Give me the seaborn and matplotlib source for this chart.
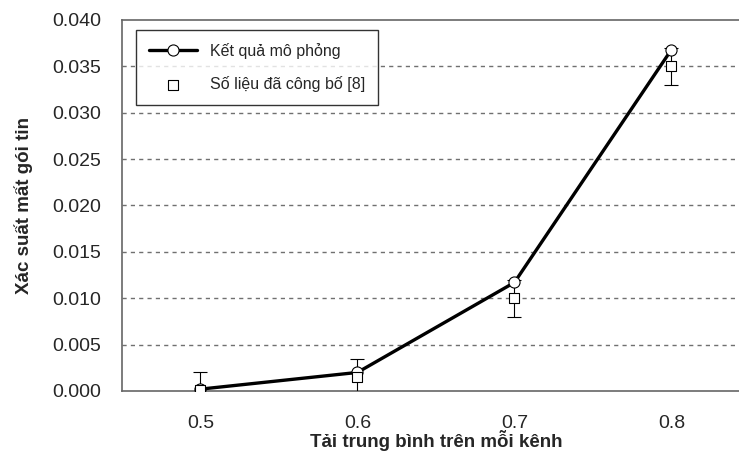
import numpy as np
import matplotlib.pyplot as plt
import seaborn as sns

# values
loads = ['0.5', '0.6', '0.7', '0.8']
sim_loss = [0.0002, 0.0020, 0.0117, 0.0368]   # Kết quả mô phỏng
pub_loss = [0.0001, 0.0015, 0.0100, 0.0350]   # Số liệu đã công bố [8]
pub_err = [0.002, 0.002, 0.002, 0.002]
y_ticks = [0.000, 0.005, 0.010, 0.015, 0.020, 0.025, 0.030, 0.035, 0.040]

sns.set_style('white')
plt.rcParams['font.family'] = ['Liberation Sans', 'DejaVu Sans']

fig = plt.figure(figsize=(7.39, 4.55), dpi=100)
ax = fig.add_axes([0.165, 0.1407, 0.8498, 0.8154])
xs = np.arange(len(loads))

# error bars of the published data
ax.errorbar(xs, pub_loss, yerr=pub_err, fmt='none', ecolor='black',
            elinewidth=0.8, capsize=5, capthick=0.8, zorder=3)

sns.lineplot(x=xs, y=sim_loss, ax=ax, color='black', linewidth=2.4,
             marker='o', markersize=8, markerfacecolor='white',
             markeredgecolor='black', markeredgewidth=0.8,
             label='Kết quả mô phỏng', zorder=4)
sns.scatterplot(x=xs, y=pub_loss, ax=ax, marker='s', s=45,
                facecolor='white', edgecolor='black', linewidth=0.8,
                label='Số liệu đã công bố [8]', zorder=5)

# axes
ax.set_xlim(-0.5, len(loads) - 0.5)
ax.set_ylim(0, 0.040)
ax.set_xticks(xs)
ax.set_xticklabels(loads)
ax.set_xticks(np.arange(-0.5, len(loads), 1.0), minor=True)
ax.tick_params(axis='x', which='major', length=0, pad=17, labelsize=14)
ax.tick_params(axis='x', which='minor', length=6, width=1, color='#555555',
               direction='out')
ax.set_yticks(y_ticks)
ax.set_yticklabels([f'{v:.3f}' for v in y_ticks])
ax.tick_params(axis='y', length=10, width=1, color='#555555',
               direction='inout', pad=10, labelsize=14)

for v in y_ticks[1:-1]:
    ax.axhline(v, color='#707070', linewidth=1, linestyle=(0, (3, 3)), zorder=1)

for side in ['left', 'bottom', 'top']:
    ax.spines[side].set_color('#666666')
    ax.spines[side].set_linewidth(1.2)
ax.spines['right'].set_visible(False)

ax.set_xlabel('Tải trung bình trên mỗi kênh', fontsize=13.5,
              fontweight='bold', labelpad=-1)
ax.set_ylabel('Xác suất mất gói tin', fontsize=13.5, fontweight='bold',
              labelpad=14)

leg = ax.legend(loc='upper left', bbox_to_anchor=(0.01, 0.995),
                fontsize=11.5, frameon=True, fancybox=False, edgecolor='black',
                handlelength=3, labelspacing=1.1, borderpad=0.8,
                handletextpad=0.8)
leg.get_frame().set_linewidth(1)

fig.savefig('out.png', dpi=100)
